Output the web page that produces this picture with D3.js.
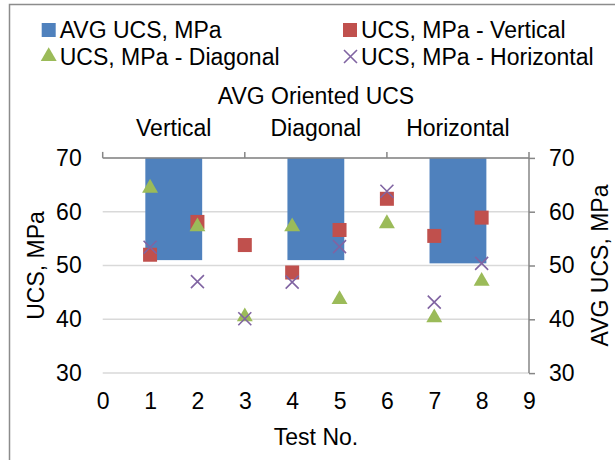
<!DOCTYPE html>
<html>
<head>
<meta charset="utf-8">
<script src="https://cdn.jsdelivr.net/npm/d3@7"></script>
<style>
  body { margin: 0; background: #fff; }
  text { font-family: "Liberation Sans", Arial, sans-serif; fill: #000; }
</style>
</head>
<body>
<script>
// Data // ----------------------------------------------------------------------
var tests = [1, 2, 3, 4, 5, 6, 7, 8];
var vertical   = [52.0, 58.1, 53.8, 48.7, 56.6, 62.4, 55.5, 58.9];
var diagonal   = [64.4, 57.2, 40.5, 57.2, 43.7, 57.8, 40.3, 47.1];
var horizontal = [53.4, 47.0, 40.1, 46.9, 53.5, 63.8, 43.2, 50.4];

var orientations = ["Vertical", "Diagonal", "Horizontal"];
var avgUcs = [51.0, 51.0, 50.4];

var xTicks = [0, 1, 2, 3, 4, 5, 6, 7, 8, 9];
var yTicks = [30, 40, 50, 60, 70];

// Layout // --------------------------------------------------------------------
var W = 615, H = 460, fs = 23;
var plot = {left: 102.7, right: 529, top: 157.9, bottom: 373.1};

var colors = {avg: "#4f81bd", v: "#c0504d", d: "#9bbb59", h: "#8064a2"};

var x = d3.scaleLinear().domain([0, 9]).range([plot.left, plot.right]),
    y = d3.scaleLinear().domain([30, 70]).range([plot.bottom, plot.top]),
    y2 = d3.scaleLinear().domain([30, 70]).range([plot.bottom, plot.top]);

// secondary category axis for the bars (gap width 150%)
var xCat = d3.scaleBand()
             .domain(orientations)
             .range([plot.left, plot.right])
             .paddingInner(0.6)
             .paddingOuter(0.3);

var svg = d3.select("body").append("svg")
            .attr("width", W)
            .attr("height", H);

svg.append("rect").attr("width", W).attr("height", H).attr("fill", "#fff");

// chart border (only left/top visible in the frame)
svg.append("rect")
   .attr("x", 9.5).attr("y", 4.5)
   .attr("width", 800).attr("height", 800)
   .attr("fill", "none")
   .attr("stroke", "#8c8c8c")
   .attr("stroke-width", 1.5);

// gridlines
svg.append("g")
   .selectAll("line")
   .data(yTicks)
   .join("line")
   .attr("x1", plot.left).attr("x2", plot.right)
   .attr("y1", function(d){ return y(d); })
   .attr("y2", function(d){ return y(d); })
   .attr("stroke", "#d9d9d9")
   .attr("stroke-width", 1.5);

// bars hang from the top (secondary horizontal axis crosses at max)
svg.append("g")
   .selectAll("rect")
   .data(avgUcs)
   .join("rect")
   .attr("x", function(d, i){ return xCat(orientations[i]); })
   .attr("width", xCat.bandwidth())
   .attr("y", y2(70))
   .attr("height", function(d){ return y2(d) - y2(70); })
   .attr("fill", colors.avg);

// top category axis
var topAxis = svg.append("g")
   .attr("transform", "translate(0," + plot.top + ")")
   .call(d3.axisTop(xCat).tickSize(0).tickFormat(""));
topAxis.select(".domain").attr("stroke", "#868686").attr("stroke-width", 1.5)
       .attr("d", "M" + plot.left + ",0H" + plot.right);
topAxis.selectAll(".catTick")
   .data([0, 3, 6, 9])
   .join("line")
   .attr("class", "catTick")
   .attr("x1", function(d){ return x(d); })
   .attr("x2", function(d){ return x(d); })
   .attr("y1", 0).attr("y2", -6)
   .attr("stroke", "#868686").attr("stroke-width", 1.5);

// category labels
svg.append("g")
   .selectAll("text")
   .data(orientations)
   .join("text")
   .attr("x", function(d){ return xCat(d) + xCat.bandwidth() / 2; })
   .attr("y", 136)
   .attr("text-anchor", "middle")
   .attr("font-size", fs)
   .text(function(d){ return d; });

// right axis
var rightAxis = svg.append("g")
   .attr("transform", "translate(" + plot.right + ",0)")
   .call(d3.axisRight(y2).tickValues(yTicks).tickSize(6).tickPadding(14));
rightAxis.select(".domain").attr("stroke", "#868686").attr("stroke-width", 1.5)
         .attr("d", "M0," + plot.top + "V" + plot.bottom);
rightAxis.selectAll(".tick line").attr("stroke", "#868686").attr("stroke-width", 1.5);
rightAxis.selectAll(".tick text").attr("font-size", fs).attr("font-family", null);

// left axis (labels only)
var leftAxis = svg.append("g")
   .attr("transform", "translate(" + plot.left + ",0)")
   .call(d3.axisLeft(y).tickValues(yTicks).tickSize(0).tickPadding(21));
leftAxis.select(".domain").remove();
leftAxis.selectAll(".tick text").attr("font-size", fs).attr("font-family", null);

// bottom axis (labels only)
var bottomAxis = svg.append("g")
   .attr("transform", "translate(0," + plot.bottom + ")")
   .call(d3.axisBottom(x).tickValues(xTicks).tickSize(0).tickPadding(20));
bottomAxis.select(".domain").remove();
bottomAxis.selectAll(".tick text").attr("font-size", fs).attr("font-family", null);

// markers
var markers = svg.append("g");

markers.selectAll(".sq")
   .data(vertical)
   .join("rect")
   .attr("class", "sq")
   .attr("x", function(d, i){ return x(tests[i]) - 7; })
   .attr("y", function(d){ return y(d) - 7; })
   .attr("width", 14).attr("height", 14)
   .attr("fill", colors.v);

var tri = d3.symbol().type(d3.symbolTriangle).size(110);
markers.selectAll(".tri")
   .data(diagonal)
   .join("path")
   .attr("class", "tri")
   .attr("transform", function(d, i){ return "translate(" + x(tests[i]) + "," + y(d) + ")"; })
   .attr("d", tri)
   .attr("fill", colors.d);

markers.selectAll(".cross")
   .data(horizontal)
   .join("path")
   .attr("class", "cross")
   .attr("d", function(d, i){
       var cx = x(tests[i]), cy = y(d), r = 6.5;
       return "M" + (cx - r) + "," + (cy - r) + "L" + (cx + r) + "," + (cy + r) +
              "M" + (cx - r) + "," + (cy + r) + "L" + (cx + r) + "," + (cy - r);
   })
   .attr("stroke", colors.h)
   .attr("stroke-width", 1.6)
   .attr("fill", "none");

// titles
svg.append("text")
   .attr("x", 316).attr("y", 104)
   .attr("text-anchor", "middle").attr("font-size", fs)
   .text("AVG Oriented UCS");

svg.append("text")
   .attr("x", 316).attr("y", 445)
   .attr("text-anchor", "middle").attr("font-size", fs)
   .text("Test No.");

svg.append("text")
   .attr("transform", "translate(44," + ((plot.top + plot.bottom) / 2) + ") rotate(-90)")
   .attr("text-anchor", "middle").attr("font-size", fs)
   .text("UCS, MPa");

svg.append("text")
   .attr("transform", "translate(608," + ((plot.top + plot.bottom) / 2) + ") rotate(-90)")
   .attr("text-anchor", "middle").attr("font-size", fs)
   .text("AVG UCS, MPa");

// legend
var legend = [
  {label: "AVG UCS, MPa", kind: "bar", color: colors.avg, lx: 41.7, ly: 30},
  {label: "UCS, MPa - Vertical", kind: "sq", color: colors.v, lx: 343, ly: 30},
  {label: "UCS, MPa - Diagonal", kind: "tri", color: colors.d, lx: 41.7, ly: 56.5},
  {label: "UCS, MPa - Horizontal", kind: "x", color: colors.h, lx: 343, ly: 56.5}
];

var lg = svg.append("g").selectAll("g")
   .data(legend)
   .join("g")
   .attr("transform", function(d){ return "translate(" + d.lx + "," + d.ly + ")"; });

lg.each(function(d){
  var g = d3.select(this);
  if (d.kind === "bar" || d.kind === "sq") {
    g.append("rect").attr("x", 0).attr("y", -7).attr("width", 14).attr("height", 14).attr("fill", d.color);
  } else if (d.kind === "tri") {
    g.append("path").attr("transform", "translate(7,0)").attr("d", tri).attr("fill", d.color);
  } else {
    g.append("path")
     .attr("d", "M1,-6.5L14,6.5M1,6.5L14,-6.5")
     .attr("stroke", d.color).attr("stroke-width", 1.6).attr("fill", "none");
  }
  g.append("text")
   .attr("x", 18).attr("y", 8)
   .attr("font-size", fs)
   .text(d.label);
});
</script>
</body>
</html>
